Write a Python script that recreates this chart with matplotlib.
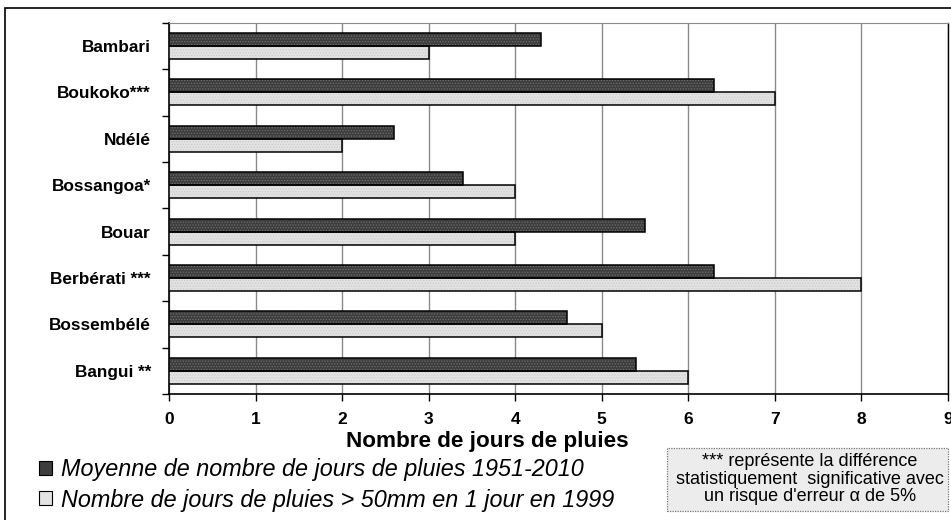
import matplotlib
matplotlib.use("Agg")
import matplotlib.pyplot as plt
from matplotlib.patches import Rectangle, Patch
import numpy as np

plt.rcParams['font.family'] = ['Liberation Sans', 'DejaVu Sans']
plt.rcParams['hatch.linewidth'] = 0.6

stations = ["Bambari", "Boukoko***", "Ndélé", "Bossangoa*", "Bouar",
            "Berbérati ***", "Bossembélé", "Bangui **"]
moyenne_1951_2010 = [4.3, 6.3, 2.6, 3.4, 5.5, 6.3, 4.6, 5.4]
jours_50mm_1999 = [3.0, 7.0, 2.0, 4.0, 4.0, 8.0, 5.0, 6.0]
x_ticks = list(range(0, 10))

label_dark = "Moyenne de nombre de jours de pluies 1951-2010"
label_light = "Nombre de jours de pluies > 50mm en 1 jour en 1999"
note_text = "*** représente la différence\nstatistiquement  significative avec\nun risque d'erreur α de 5%"

W, H = 951, 520
fig = plt.figure(figsize=(W / 100, H / 100), dpi=100)
ax = fig.add_axes([169 / W, 1 - 394 / H, (948 - 169) / W, (394 - 22.7) / H])

y = np.arange(len(stations))
h = 0.28
dark_face, light_face = "#3d3d3d", "#e2e2e2"

# filled, textured bars
ax.barh(y - h / 2, moyenne_1951_2010, height=h, color=dark_face,
        edgecolor="#6e6e6e", hatch="......", linewidth=0, zorder=3)
ax.barh(y + h / 2, jours_50mm_1999, height=h, color=light_face,
        edgecolor="#cdcdcd", hatch="......", linewidth=0, zorder=3)
# outlines
ax.barh(y - h / 2, moyenne_1951_2010, height=h, fill=False,
        edgecolor="black", linewidth=1.1, zorder=4)
ax.barh(y + h / 2, jours_50mm_1999, height=h, fill=False,
        edgecolor="black", linewidth=1.1, zorder=4)

ax.set_xlim(0, 9)
ax.set_ylim(len(stations) - 0.5, -0.5)

ax.set_xticks(x_ticks)
ax.set_xticklabels([str(v) for v in x_ticks], fontsize=12.5, fontweight="bold")
ax.tick_params(axis="x", direction="out", length=5, width=1, pad=8, colors="black")

ax.set_yticks(np.arange(-0.5, len(stations), 1.0))
ax.set_yticklabels([])
ax.tick_params(axis="y", which="major", direction="out", length=5, width=1)
ax.set_yticks(y, minor=True)
ax.set_yticklabels(stations, minor=True, fontsize=12.4, fontweight="bold")
ax.tick_params(axis="y", which="minor", length=0, pad=13)

ax.grid(axis="x", color="#8a8a8a", linewidth=1.0, zorder=0)
ax.set_axisbelow(True)

for side in ["left", "bottom"]:
    ax.spines[side].set_color("black")
    ax.spines[side].set_linewidth(1.2)
ax.spines["top"].set_color("#8a8a8a")
ax.spines["right"].set_color("black")
ax.spines["right"].set_linewidth(1.0)

ax.set_xlabel("Nombre de jours de pluies", fontsize=16.2, fontweight="bold", labelpad=0)
ax.xaxis.set_label_coords((487 - 169) / (948 - 169), -0.1)

# outer chart frame
fig.patches.append(Rectangle((5 / W, -0.1), 1.2, 1 - 8 / H + 0.1,
                             transform=fig.transFigure, fill=False,
                             edgecolor="black", linewidth=1.2))

handles = [Patch(facecolor=dark_face, edgecolor="black", linewidth=0.8),
           Patch(facecolor=light_face, edgecolor="black", linewidth=0.8)]
fig.legend(handles, [label_dark, label_light], loc="upper left",
           bbox_to_anchor=(39 / W, 1 - 458 / H), frameon=False,
           prop={"style": "italic", "size": 16.8}, handlelength=0.55,
           handleheight=0.55, handletextpad=0.4, labelspacing=0.33,
           borderpad=0, borderaxespad=0)

# note box
fig.patches.append(Rectangle((667 / W, 1 - 511 / H), 281 / W, 63 / H,
                             transform=fig.transFigure, facecolor="#ececec",
                             edgecolor="#777777", linestyle=(0, (1, 1)),
                             linewidth=0.9))
fig.text(810 / W, 1 - 479 / H, note_text, ha="center", va="center",
         fontsize=13, linespacing=1.05)

fig.savefig("out.png", dpi=100)
